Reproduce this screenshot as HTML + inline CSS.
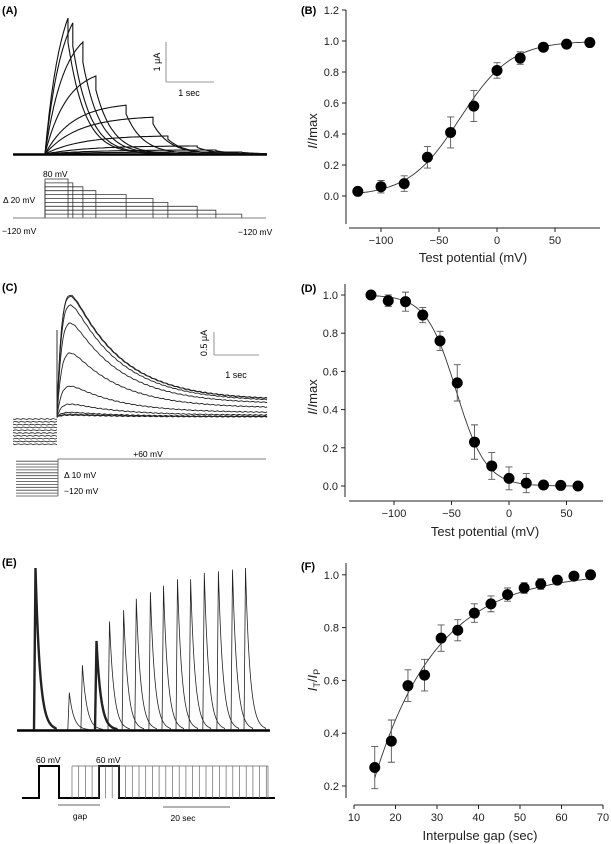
<!DOCTYPE html>
<html><head><meta charset="utf-8">
<style>
html,body{margin:0;padding:0;background:#fff;}
svg{display:block;font-family:"Liberation Sans",Arial,sans-serif;}
</style></head>
<body>
<svg id="fig" width="611" height="844" viewBox="0 0 611 844" xmlns="http://www.w3.org/2000/svg">
<defs><clipPath id="clipA"><rect x="0" y="0" width="268" height="160"/></clipPath></defs>
<g>
<text x="2" y="14" font-size="11" font-weight="bold">(A)</text>
<g id="aTraces" clip-path="url(#clipA)"></g>
<g id="aStim"></g>
<line x1="166" y1="42" x2="166" y2="82" stroke="#777" stroke-width="0.8"/>
<line x1="166" y1="82" x2="214" y2="82" stroke="#777" stroke-width="0.8"/>
<text x="0" y="0" font-size="9" text-anchor="middle" transform="translate(160,62) rotate(-90)">1 μA</text>
<text x="189" y="96" font-size="9" text-anchor="middle">1 sec</text>
<text x="43" y="177" font-size="8.5">80 mV</text>
<text x="3" y="203" font-size="8.5">Δ 20 mV</text>
<text x="2" y="234" font-size="8.5">−120 mV</text>
<text x="238" y="235" font-size="8.5">−120 mV</text>
</g>
<g>
<text x="2" y="291" font-size="11" font-weight="bold">(C)</text>
<g id="cTraces"></g>
<g id="cStim"></g>
<line x1="214" y1="332" x2="214" y2="355" stroke="#777" stroke-width="0.8"/>
<line x1="214" y1="355" x2="259" y2="355" stroke="#777" stroke-width="0.8"/>
<text x="0" y="0" font-size="9" text-anchor="middle" transform="translate(207,343) rotate(-90)">0.5 μA</text>
<text x="236" y="378" font-size="9" text-anchor="middle">1 sec</text>
<text x="148" y="457" font-size="8.5" text-anchor="middle">+60 mV</text>
<text x="64" y="478" font-size="8.5">Δ 10 mV</text>
<text x="64" y="494" font-size="8.5">−120 mV</text>
</g>
<g>
<text x="2" y="566" font-size="11" font-weight="bold">(E)</text>
<g id="eTraces"></g>
<g id="eStim"></g>
<text x="36" y="763" font-size="8.5">60 mV</text>
<text x="96" y="763" font-size="8.5">60 mV</text>
<line x1="58" y1="805" x2="100" y2="805" stroke="#333" stroke-width="0.8"/>
<text x="80" y="819" font-size="8.5" text-anchor="middle">gap</text>
<line x1="163" y1="807" x2="230" y2="807" stroke="#333" stroke-width="0.8"/>
<text x="183" y="821" font-size="8.5" text-anchor="middle">20 sec</text>
</g>
<g id="panelB"></g>
<g id="panelD"></g>
<g id="panelF"></g>
</svg>
<script>
// ---------- Panel B data ----------
const bVoltages = [-120,-100,-80,-60,-40,-20,0,20,40,60,80];
const bValues   = [0.03,0.06,0.08,0.25,0.41,0.58,0.81,0.89,0.96,0.98,0.99];
const bErrors   = [0.01,0.04,0.05,0.07,0.10,0.10,0.05,0.04,0.02,0.01,0.01];
const bFit      = [-32,22];   // V1/2, slope (Boltzmann activation)
const bXTicks   = [-100,-50,0,50];
const bYTicks   = [0.0,0.2,0.4,0.6,0.8,1.0,1.2];
// ---------- Panel D data ----------
const dVoltages = [-120,-105,-90,-75,-60,-45,-30,-15,0,15,30,45,60];
const dValues   = [1.0,0.97,0.965,0.895,0.76,0.54,0.23,0.105,0.04,0.015,0.005,0.003,0.0];
const dErrors   = [0.01,0.03,0.05,0.04,0.05,0.095,0.09,0.07,0.06,0.05,0.02,0.01,0.01];
const dFit      = [-46,13];   // V1/2, slope (Boltzmann inactivation)
const dXTicks   = [-100,-50,0,50];
const dYTicks   = [0.0,0.2,0.4,0.6,0.8,1.0];
// ---------- Panel F data ----------
const fGaps     = [15,19,23,27,31,35,39,43,47,51,55,59,63,67];
const fValues   = [0.27,0.37,0.58,0.62,0.76,0.79,0.855,0.89,0.925,0.95,0.965,0.98,0.995,1.0];
const fErrors   = [0.08,0.08,0.06,0.06,0.05,0.04,0.035,0.03,0.025,0.02,0.02,0.015,0.015,0.01];
const fFit      = [1.01,0.78,15.1]; // plateau, amplitude at 15 s, tau (s)
const fXTicks   = [10,20,30,40,50,60,70];
const fYTicks   = [0.2,0.4,0.6,0.8,1.0];
// ---------- Panel A traces ----------
const aLevels   = [80,60,40,20,0,-20,-40,-60,-80,-100];
const aEndTimes = [0.48,0.58,0.79,1.06,1.69,2.25,2.56,3.17,3.56,4.10];
const aPeaks    = [3.4,3.28,2.8,1.95,1.22,0.92,0.45,0.2,0.1,0.05];
// ---------- Panel C traces ----------
const cPrepulse = [-120,-110,-100,-90,-80,-70,-60,-50,-40,-30,-20,-10,0];
const cPeaks    = [2.65,2.62,2.43,2.04,1.39,0.67,0.28,0.1,0.06,0.04];
// ---------- Panel E traces ----------
const eTimes    = [10.1,14.0,18.2,22.1,26.3,30.1,34.3,38.2,42.4,46.3,50.4,54.6,58.8,62.7];
const eAmps     = [0.23,0.40,0.55,0.67,0.74,0.81,0.85,0.89,0.93,0.93,0.97,0.98,0.99,1.0];

const NS = "http://www.w3.org/2000/svg";
function mk(tag, parent, attrs){
  const el = document.createElementNS(NS, tag);
  for (const k in attrs) el.setAttribute(k, attrs[k]);
  parent.appendChild(el);
  return el;
}
function pathFrom(pts){ return pts.map((p,i)=>(i?"L":"M")+p[0].toFixed(1)+" "+p[1].toFixed(1)).join(""); }

function scatterPanel(g, o){
  const sx = v => o.x0 + (v - o.xa) * o.kx;
  const sy = v => o.y0 - (v - o.ya) * o.ky;
  const lab = mk("text", g, {x:o.labX, y:o.labY, "font-size":11, "font-weight":"bold"});
  
  
  lab.textContent = o.label;
  const ya = mk("line", g, {x1:o.axX, y1:o.yTop, x2:o.axX, y2:o.yBot, stroke:"#222", "stroke-width":1});
  
  
  const xa = mk("line", g, {x1:o.xL, y1:o.axY, x2:o.xR, y2:o.axY, stroke:"#222", "stroke-width":1});
  
  
  o.yTicks.forEach(t=>{
    const y = sy(t);
    const tk = mk("line", g, {x1:o.axX-4, y1:y, x2:o.axX, y2:y, stroke:"#222"});
    
    
    const tx = mk("text", g, {x:o.axX-7, y:y+4, "font-size":11, "text-anchor":"end", fill:"#222"});
    
    
    tx.textContent = t.toFixed(1);
  });
  o.xTicks.forEach(t=>{
    const x = sx(t);
    const tk = mk("line", g, {x1:x, y1:o.axY, x2:x, y2:o.axY+4, stroke:"#222"});
    
    
    const tx = mk("text", g, {x:x, y:o.axY+16, "font-size":11, "text-anchor":"middle", fill:"#222"});
    
    
    tx.textContent = t < 0 ? "−"+(-t) : String(t);
  });
  const xt = mk("text", g, {x:o.xtX, y:o.xtY, "font-size":13, "text-anchor":"middle", fill:"#222"});
  
  
  xt.textContent = o.xTitle;
  const yt = mk("text", g, {x:0, y:0, "font-size":13, "text-anchor":"middle", fill:"#222", transform:"translate("+o.ytX+","+o.ytY+") rotate(-90)"});
  
  
  yt.innerHTML = o.yTitle;
  const pts = [];
  for (let i=0;i<=120;i++){
    const v = o.fitFrom + (o.fitTo-o.fitFrom)*i/120;
    pts.push([sx(v), sy(o.fit(v))]);
  }
  const fl = mk("path", g, {d:pathFrom(pts), fill:"none", stroke:"#333", "stroke-width":0.9});
  
  
  o.xs.forEach((v,i)=>{
    const x = sx(v), y = sy(o.vals[i]);
    const e = o.errs[i];
    const eb = mk("path", g, {d:"M"+x+" "+sy(o.vals[i]-e)+"V"+sy(o.vals[i]+e)+"M"+(x-3.5)+" "+sy(o.vals[i]-e)+"h7M"+(x-3.5)+" "+sy(o.vals[i]+e)+"h7", stroke:"#555", "stroke-width":0.9, fill:"none"});
    
    
    const c = mk("circle", g, {cx:x, cy:y, r:5.5, fill:"#000"});
    
    
  });
}
scatterPanel(document.getElementById("panelB"), {
  id:"panel-b", label:"(B)", labX:301, labY:14,
  x0:497, xa:0, kx:1.16, y0:196, ya:0, ky:155,
  axX:346, yTop:10, yBot:224, axY:228, xL:349, xR:600,
  xTicks:bXTicks, yTicks:bYTicks, xTitle:"Test potential (mV)", xtX:473, xtY:262,
  yTitle:'<tspan font-style="italic">I</tspan>/<tspan font-style="italic">I</tspan>max', ytX:317, ytY:131,
  xs:bVoltages, vals:bValues, errs:bErrors,
  fit:v=>1/(1+Math.exp((bFit[0]-v)/bFit[1])), fitFrom:-120, fitTo:80
});
scatterPanel(document.getElementById("panelD"), {
  id:"panel-d", label:"(D)", labX:301, labY:292,
  x0:509, xa:0, kx:1.15, y0:486, ya:0, ky:191,
  axX:345, yTop:284, yBot:497, axY:501, xL:349, xR:603,
  xTicks:dXTicks, yTicks:dYTicks, xTitle:"Test potential (mV)", xtX:485, xtY:536,
  yTitle:'<tspan font-style="italic">I</tspan>/<tspan font-style="italic">I</tspan>max', ytX:317, ytY:397,
  xs:dVoltages, vals:dValues, errs:dErrors,
  fit:v=>1/(1+Math.exp((v-dFit[0])/dFit[1])), fitFrom:-120, fitTo:60
});
scatterPanel(document.getElementById("panelF"), {
  id:"panel-f", label:"(F)", labX:301, labY:570,
  x0:354, xa:10, kx:4.15, y0:786, ya:0.2, ky:264,
  axX:346, yTop:563, yBot:798, axY:805, xL:354, xR:603,
  xTicks:fXTicks, yTicks:fYTicks, xTitle:"Interpulse gap (sec)", xtX:480, xtY:840,
  yTitle:'<tspan font-style="italic">I</tspan><tspan font-size="9" dy="3">T</tspan><tspan dy="-3">/</tspan><tspan font-style="italic">I</tspan><tspan font-size="9" dy="3">P</tspan>', ytX:317, ytY:680,
  xs:fGaps, vals:fValues, errs:fErrors,
  fit:t=>fFit[0]-fFit[1]*Math.exp(-(t-15)/fFit[2]), fitFrom:15, fitTo:67
});

// ---------- Panel A ----------
(function(){
  const g = document.getElementById("aTraces"), s = document.getElementById("aStim");
  const tx = t => 45 + t*48, iy = i => 154 - i*40;
  const base = mk("path", g, {d:"M13 154.5H267", stroke:"#000", "stroke-width":2.6, fill:"none"});
  
  
  aLevels.forEach((lv,k)=>{
    const T = aEndTimes[k], A = aPeaks[k], tr = 0.25 + T*0.2;
    const pts = [];
    for (let i=0;i<=60;i++){ const t=T*i/60; pts.push([tx(t), iy(A*(1-Math.exp(-t/tr))/(1-Math.exp(-T/tr)))]); }
    const a2 = A*0.82;
    for (let i=0;i<=60;i++){ const t=T+i*0.04; if (tx(t)>267) break; pts.push([tx(t), iy(a2*Math.exp(-(t-T)/0.35))]); }
    const p = mk("path", g, {d:pathFrom(pts), fill:"none", stroke:"#111", "stroke-width":1.1});
    
    
    const y = 218 - (lv+120)/20*3.9;
    const r = mk("path", s, {d:"M45 218V"+y+"H"+tx(T)+"V218", fill:"none", stroke:"#333", "stroke-width":0.8});
    
    
  });
  const sb = mk("line", s, {x1:13, y1:218, x2:266, y2:218, stroke:"#555", "stroke-width":0.8});
  
  
})();

// ---------- Panel C ----------
(function(){
  const g = document.getElementById("cTraces"), s = document.getElementById("cStim");
  const tx = t => 57 + t*45, iy = i => 417 - i*46;
  const shape = t => (1-Math.exp(-t/0.12))*(0.1+0.9*Math.exp(-t/1.1));
  let mx = 0; for (let t=0;t<2;t+=0.01) mx=Math.max(mx,shape(t));
  cPeaks.forEach((A,k)=>{
    const pts=[];
    for (let i=0;i<=140;i++){ const t=4.67*i/140; pts.push([tx(t), iy(A*shape(t)/mx)+Math.sin(i*1.7+k)*0.4]); }
    const p = mk("path", g, {d:pathFrom(pts), fill:"none", stroke:"#222", "stroke-width":0.9});
    
    
  });
  const spike = mk("line", g, {x1:57, y1:330, x2:57, y2:417, stroke:"#333", "stroke-width":1});
  
  
  for (let k=0;k<10;k++){
    const y0 = 419 + k*2.8, pts=[];
    for (let i=0;i<=22;i++) pts.push([13+i*2, y0+Math.sin(i*2.1+k*2)*0.5]);
    const p = mk("path", g, {d:pathFrom(pts), fill:"none", stroke:"#222", "stroke-width":0.8});
    
    
  }
  cPrepulse.forEach((v,k)=>{
    const y = 496 - (v+120)/10*2.9;
    const l = mk("line", s, {x1:16, y1:y, x2:58, y2:y, stroke:"#444", "stroke-width":0.8});
    
    
  });
  const v = mk("path", s, {d:"M58 496V459H266", fill:"none", stroke:"#555", "stroke-width":0.8});
  
  
})();

// ---------- Panel E ----------
(function(){
  const g = document.getElementById("eTraces"), s = document.getElementById("eStim");
  const tx = t => 35 + t*3.35, iy = a => 730 - a*162;
  const base = mk("path", g, {d:"M17 730.5H270", stroke:"#000", "stroke-width":2.4, fill:"none"});
  
  
  function spike(t0, a, w, name){
    const x0 = tx(t0), pts=[[x0-1,730],[x0+0.5,iy(a)]];
    for (let i=1;i<=40;i++){ const dx=i*0.5; pts.push([x0+0.5+dx, iy(a*Math.exp(-dx/4.5))]); }
    pts.push([x0+21,730]);
    const p = mk("path", g, {d:pathFrom(pts), fill:"none", stroke:"#222", "stroke-width":w});
    
    
  }
  spike(0, 1.0, 2.4, 'panel-e-prepulse-current');
  eTimes.forEach((t,k)=>{ spike(t, eAmps[k], k===2?2.4:0.8, 'panel-e-test-current'); });
  const st = mk("path", s, {d:"M22 798H39V766H59V798H99V766H119V798H275", fill:"none", stroke:"#000", "stroke-width":2});
  
  
  const top = mk("path", s, {d:"M72 766H268V798", fill:"none", stroke:"#666", "stroke-width":0.7});
  
  
  for (let x=72; x<268; x+=6.7){
    const l = mk("line", s, {x1:x, y1:766, x2:x, y2:798, stroke:"#666", "stroke-width":0.7});
    
    
  }
})();
</script>
</body></html>
